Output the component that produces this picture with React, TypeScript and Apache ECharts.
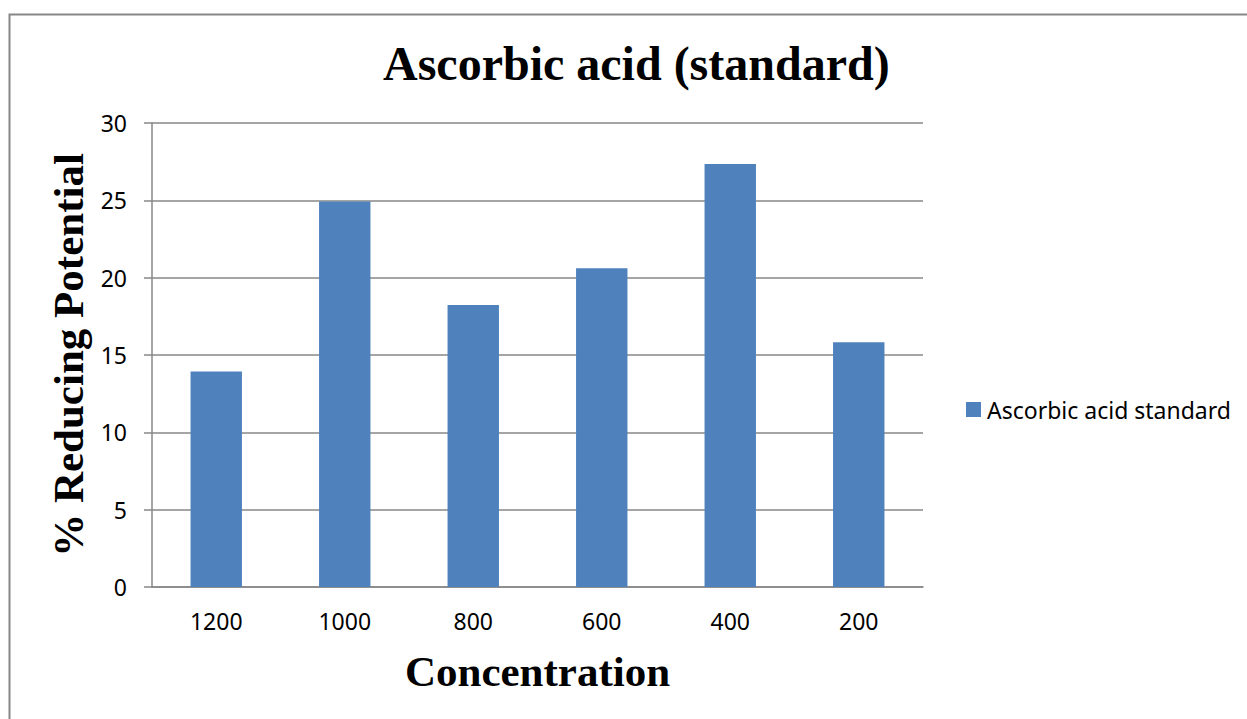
import React, { useEffect, useRef } from "react";
import * as echarts from "echarts";

const categories: string[] = ["1200", "1000", "800", "600", "400", "200"];
const seriesName = "Ascorbic acid standard";
const values: number[] = [13.93, 24.93, 18.24, 20.61, 27.35, 15.82];
const yTicks = { min: 0, max: 30, interval: 5 };

const chartTitle = "Ascorbic acid (standard)";
const xName = "Concentration";
const yName = "% Reducing Potential";

export default function App() {
  const ref = useRef<HTMLDivElement>(null);
  useEffect(() => {
    if (!ref.current) return;
    const chart = echarts.init(ref.current, undefined, { renderer: "svg" });
    const gray = "#878787";
    const labelFont = "'Noto Sans', sans-serif";
    const serif = "'Liberation Serif', 'Times New Roman', serif";
    chart.setOption({
      animation: false,
      backgroundColor: "#ffffff",
      title: {
        text: chartTitle,
        left: 383,
        top: 39,
        padding: 0,
        textStyle: { fontFamily: serif, fontWeight: "bold", fontSize: 48, color: "#000" },
      },
      legend: {
        left: 966,
        top: 398,
        padding: 0,
        itemWidth: 15,
        itemHeight: 15,
        icon: "rect",
        textStyle: { fontFamily: labelFont, fontSize: 23, color: "#000", padding: [0, 0, 0, 1] },
        data: [seriesName],
      },
      grid: { left: 152, right: 324, top: 123, bottom: 132, containLabel: false },
      xAxis: {
        type: "category",
        data: categories,
        name: xName,
        nameLocation: "middle",
        nameGap: 63,
        nameTextStyle: { fontFamily: serif, fontWeight: "bold", fontSize: 43, color: "#000" },
        axisLine: { show: true, lineStyle: { color: gray, width: 1.5 } },
        axisTick: { show: false },
        axisLabel: { fontFamily: labelFont, fontSize: 23, color: "#000", margin: 22 },
      },
      yAxis: {
        type: "value",
        min: yTicks.min,
        max: yTicks.max,
        interval: yTicks.interval,
        name: yName,
        nameLocation: "middle",
        nameGap: 59,
        nameTextStyle: { fontFamily: serif, fontWeight: "bold", fontSize: 43, color: "#000" },
        axisLine: { show: true, lineStyle: { color: gray, width: 1.5 } },
        axisTick: { show: true, length: 8, lineStyle: { color: gray, width: 1.5 } },
        axisLabel: { fontFamily: labelFont, fontSize: 23, color: "#000", margin: 25 },
        splitLine: { show: true, lineStyle: { color: gray, width: 1.5 } },
      },
      series: [
        {
          name: seriesName,
          type: "bar",
          data: values,
          barWidth: "40%",
          itemStyle: { color: "#4F81BD" },
        },
      ],
      graphic: [
        {
          type: "rect",
          shape: { x: 9.5, y: 14.5, width: 1300, height: 800 },
          style: { fill: "none", stroke: gray, lineWidth: 2 },
          silent: true,
        },
      ],
    });
    return () => chart.dispose();
  }, []);
  return (
    <div
      ref={ref}
      style={{ position: "absolute", left: 0, top: 0, width: 1247, height: 719 }}
    />
  );
}
